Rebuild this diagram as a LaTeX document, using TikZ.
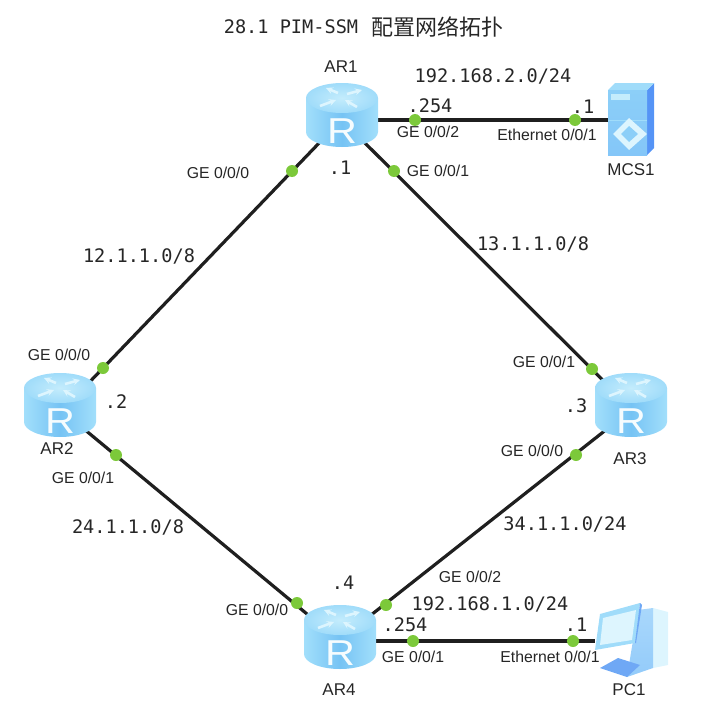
\documentclass[tikz,border=0pt]{standalone}
\usepackage{fontspec}
\setmainfont{Liberation Sans}
\setmonofont{DejaVu Sans Mono}
\newfontfamily\cjk{Noto Sans CJK SC}
\definecolor{inktext}{HTML}{262626}
\definecolor{portgreen}{HTML}{7CC93A}
\definecolor{bodyedge}{HTML}{A2DFFB}
\definecolor{bodymid}{HTML}{76C3F4}
\definecolor{topedge}{HTML}{A0DCFA}
\definecolor{topmid}{HTML}{C4ECFC}
\definecolor{paleblue}{HTML}{DDF5FE}
\definecolor{frontblue}{HTML}{8CCFF8}
\definecolor{sideblue}{HTML}{5594F6}
\definecolor{panelblue}{HTML}{93CBFA}
\definecolor{deepblue}{HTML}{6FA8F5}
\tikzset{
  link/.style={draw=black!88, line width=3.2mm},
  port/.style={circle, fill=portgreen, inner sep=0pt, minimum size=12mm},
  device/.style={circle, inner sep=0pt, minimum size=68mm},
  portlabel/.style={inner sep=0pt, text=inktext, font=\fontsize{15.8mm}{18mm}\selectfont},
  devlabel/.style={inner sep=0pt, text=inktext, font=\fontsize{17mm}{20mm}\selectfont},
  netlabel/.style={inner sep=0pt, text=inktext, font=\ttfamily\fontsize{18.6mm}{20mm}\selectfont},
  arrowwhite/.style={draw=paleblue, line width=2.6mm, -stealth},
}
\tikzset{router/.pic={
    \shade[left color=bodyedge, right color=bodyedge, middle color=bodymid]
      (-36mm, 17mm) -- (-36mm, -17mm) arc (180:360:36mm and 15mm) -- (36mm, 17mm) -- cycle;
    \shade[inner color=topmid, outer color=topedge]
      (0mm, 17mm) ellipse (36mm and 15mm); % top
    \draw[arrowwhite] (-4mm, 22mm) -- (-16mm, 27mm);
    \draw[arrowwhite] (5mm, 21mm) -- (20mm, 25mm);
    \draw[arrowwhite] (-22mm, 9mm) -- (-6mm, 15mm);
    \draw[arrowwhite] (15mm, 8mm) -- (3mm, 15mm);
    \node[inner sep=0pt, text=white!90!bodyedge, xscale=1.15, transform shape, font=\fontsize{36mm}{38mm}\selectfont] (letter) at (0mm, -16mm) {R};
}
}
\tikzset{server/.pic={
    \fill[sideblue] (16mm, 30mm) -- (23mm, 37mm) -- (23mm, -28mm) -- (16mm, -35mm) -- cycle; % side
    \fill[topedge] (-23mm, 30mm) -- (-16mm, 37mm) -- (23mm, 37mm) -- (16mm, 30mm) -- cycle;
    \shade[top color=frontblue, bottom color=frontblue!85!sideblue] (-23mm, 30mm) rectangle (16mm, -35mm);
    \fill[topmid] (-20mm, 26mm) rectangle (-1mm, 20mm);
    \draw[topedge, line width=.8mm] (-23mm, 0mm) -- (16mm, 0mm);
    \fill[paleblue] (-2mm, 2mm) -- (16mm, -14mm) -- (-2mm, -30mm) -- (-18mm, -14mm) -- cycle;
    \fill[frontblue] (-2mm, -6mm) -- (7mm, -14mm) -- (-2mm, -22mm) -- (-10mm, -14mm) -- cycle;
}
}
\tikzset{computer/.pic={
    \fill[paleblue] (21mm, 33mm) -- (36mm, 29mm) -- (36mm, -24mm) -- (21mm, -27mm) -- cycle; % tower
    \shade[top color=panelblue!70!paleblue, bottom color=panelblue] (6mm, 31mm) -- (21mm, 33mm) -- (21mm, -27mm) -- (-5mm, -36mm) -- cycle;
    \fill[deepblue] (-32mm, -27mm) -- (-14mm, -17mm) -- (8mm, -24mm) -- (-5mm, -36mm) -- cycle; % foot
    \fill[topedge] (-32mm, 27mm) -- (8mm, 38mm) -- (3mm, -2mm) -- (-37mm, -9mm) -- cycle; % monitor
    \fill[deepblue] (8mm, 38mm) -- (10mm, 36mm) -- (4mm, -2mm) -- (3mm, -2mm) -- cycle;
    \fill[paleblue] (-29mm, 23mm) -- (4mm, 31mm) -- (0mm, 1mm) -- (-32mm, -4mm) -- cycle; % screen
}
}

\begin{document}
\begin{tikzpicture}
  \useasboundingbox (0mm, 0mm) rectangle (723mm, -715mm);

  % devices
  \node[device] (AR1) at (342mm, -115mm) {};
  \node[device] (AR2) at (60mm, -405mm) {};
  \node[device] (AR3) at (631mm, -405mm) {};
  \node[device] (AR4) at (340mm, -637mm) {};
  \node[inner sep=0pt, minimum width=46mm, minimum height=70mm] (MCS1) at (631mm, -120mm) {};
  \node[inner sep=0pt, minimum width=74mm, minimum height=70mm] (PC1) at (632mm, -641mm) {};

  % links
  \draw[link] (AR1.-129) -- (AR2.37);
  \draw[link] (AR1.-51) -- (AR3.139);
  \draw[link] (AR2.-45) -- (AR4.146);
  \draw[link] (AR3.-135) -- (AR4.35);
  \draw[link] (AR1.east |- MCS1) -- (MCS1.west);
  \draw[link] (AR4.east |- PC1) -- (PC1.west);

  \pic at (AR1) {router};
  \pic at (AR2) {router};
  \pic at (AR3) {router};
  \pic at (AR4) {router};
  \pic at (MCS1) {server};
  \pic at (PC1) {computer};

  % ports
  \node[port] (p12) at (292mm, -171mm) {};
  \node[port] (p21) at (103mm, -368mm) {};
  \node[port] (p13) at (394mm, -171mm) {};
  \node[port] (p31) at (592mm, -369mm) {};
  \node[port] (p24) at (116mm, -455mm) {};
  \node[port] (p42) at (297mm, -603mm) {};
  \node[port] (p34) at (576mm, -455mm) {};
  \node[port] (p43) at (386mm, -605mm) {};
  \node[port] (p1m) at (415mm, -120mm) {};
  \node[port] (pm1) at (575mm, -120mm) {};
  \node[port] (p4p) at (413mm, -641mm) {};
  \node[port] (pp4) at (573mm, -641mm) {};

  % title
  \node[netlabel] (title) at (291mm, -27mm) {28.1 PIM-SSM};
  \node[inner sep=0pt, text=inktext, font=\cjk\fontsize{22mm}{24mm}\selectfont] (titlecn) at (437mm, -27mm) {配置网络拓扑};

  % device names
  \node[devlabel] (nameAR1) at (341mm, -67mm) {AR1};
  \node[devlabel] (nameAR2) at (57mm, -449mm) {AR2};
  \node[devlabel] (nameAR3) at (630mm, -459mm) {AR3};
  \node[devlabel] (nameAR4) at (339mm, -690mm) {AR4};
  \node[devlabel] (nameMCS1) at (631mm, -170mm) {MCS1};
  \node[devlabel] (namePC1) at (629mm, -690mm) {PC1};

  % interfaces
  \node[portlabel] (if1a) at (218mm, -173mm) {GE 0/0/0};
  \node[portlabel] (if1b) at (438mm, -171mm) {GE 0/0/1};
  \node[portlabel] (if1c) at (428mm, -132mm) {GE 0/0/2};
  \node[portlabel] (ifm) at (547mm, -135mm) {Ethernet 0/0/1};
  \node[portlabel] (if2a) at (59mm, -355mm) {GE 0/0/0};
  \node[portlabel] (if2b) at (83mm, -478mm) {GE 0/0/1};
  \node[portlabel] (if3b) at (544mm, -362mm) {GE 0/0/1};
  \node[portlabel] (if3a) at (532mm, -451mm) {GE 0/0/0};
  \node[portlabel] (if4c) at (470mm, -577mm) {GE 0/0/2};
  \node[portlabel] (if4a) at (257mm, -610mm) {GE 0/0/0};
  \node[portlabel] (if4b) at (413mm, -657mm) {GE 0/0/1};
  \node[portlabel] (ifp) at (550mm, -657mm) {Ethernet 0/0/1};

  % networks and addresses
  \node[netlabel] (net12) at (139mm, -256mm) {12.1.1.0/8};
  \node[netlabel] (net13) at (533mm, -244mm) {13.1.1.0/8};
  \node[netlabel] (net24) at (128mm, -527mm) {24.1.1.0/8};
  \node[netlabel] (net34) at (565mm, -524mm) {34.1.1.0/24};
  \node[netlabel] (netm) at (493mm, -76mm) {192.168.2.0/24};
  \node[netlabel] (netp) at (490mm, -604mm) {192.168.1.0/24};
  \node[netlabel] (ip1) at (340mm, -168mm) {.1};
  \node[netlabel] (ip1m) at (430mm, -106mm) {.254};
  \node[netlabel] (ipm) at (583mm, -107mm) {.1};
  \node[netlabel] (ip2) at (116mm, -402mm) {.2};
  \node[netlabel] (ip3) at (576mm, -406mm) {.3};
  \node[netlabel] (ip4) at (343mm, -583mm) {.4};
  \node[netlabel] (ip4p) at (405mm, -625mm) {.254};
  \node[netlabel] (ipp) at (576mm, -625mm) {.1};
\end{tikzpicture}
\end{document}
